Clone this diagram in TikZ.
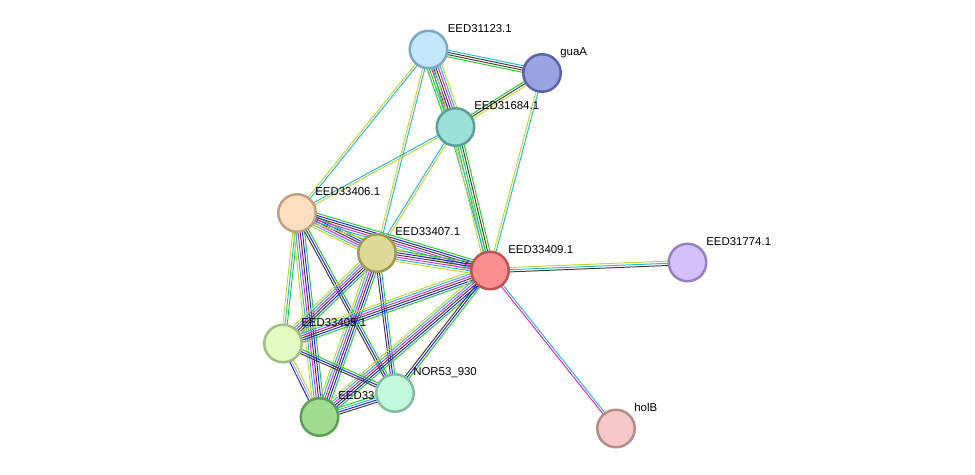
\documentclass[tikz,border=0pt]{standalone}
\usepackage{fontspec}
\setmainfont{Liberation Sans}
\usetikzlibrary{calc,backgrounds}
\definecolor{cyg}{RGB}{196,214,46}
\definecolor{ccy}{RGB}{40,182,222}
\definecolor{cmg}{RGB}{220,40,220}
\definecolor{cbk}{RGB}{60,60,60}
\definecolor{cbl}{RGB}{30,30,240}
\definecolor{cgr}{RGB}{40,200,40}
\definecolor{crd}{RGB}{240,30,30}
\definecolor{clv}{RGB}{160,160,255}
\definecolor{fA}{HTML}{C3E7FA}\definecolor{bA}{HTML}{7EA7C1}
\definecolor{fB}{HTML}{9AA3E2}\definecolor{bB}{HTML}{5B64A5}
\definecolor{fC}{HTML}{9AE0D6}\definecolor{bC}{HTML}{5C9F96}
\definecolor{fD}{HTML}{FEDFC0}\definecolor{bD}{HTML}{BFA081}
\definecolor{fE}{HTML}{DDDA96}\definecolor{bE}{HTML}{9D9A5B}
\definecolor{fF}{HTML}{FB8E8E}\definecolor{bF}{HTML}{BC5454}
\definecolor{fG}{HTML}{D4C0FB}\definecolor{bG}{HTML}{9581C2}
\definecolor{fH}{HTML}{E2FCC4}\definecolor{bH}{HTML}{A1BE84}
\definecolor{fI}{HTML}{C2F9DE}\definecolor{bI}{HTML}{83BC9E}
\definecolor{fJ}{HTML}{9FDC90}\definecolor{bJ}{HTML}{5F9E55}
\definecolor{fK}{HTML}{F6C7C7}\definecolor{bK}{HTML}{B88A8A}
\newcommand\edgesp{1.25}
\newcommand\medge[3]{%
  \def\mlist{#3}%
  \foreach \c [count=\i] in \mlist {\xdef\mn{\i}}%
  \foreach \c [count=\i] in \mlist {%
    \pgfmathsetmacro\off{(\i-(\mn+1)/2)*\edgesp}%
    \draw[\c, edgeline] ($(#1)!\off pt!90:(#2)$) -- ($(#2)!\off pt!-90:(#1)$);
  }}
\begin{document}
\begin{tikzpicture}[x=0.02cm,y=-0.02cm,
  nd/.style={circle, minimum size=0.75cm, inner sep=0pt, line width=0.05cm},
  lab/.style={anchor=base west, inner sep=0pt, font=\fontsize{6.5}{7.5}\selectfont},
  edgeline/.style={line width=0.55pt}]
\useasboundingbox (0,0) rectangle (975,474);
% nodes
\node[nd, fill=fA, draw=bA] (n31123) at (428.5,49.5) {};
\node[nd, fill=fB, draw=bB] (nguaA) at (542,73) {};
\node[nd, fill=fC, draw=bC] (n31684) at (455.5,127) {};
\node[nd, fill=fD, draw=bD] (n33406) at (297,213) {};
\node[nd, fill=fE, draw=bE] (n33407) at (377,253) {};
\node[nd, fill=fF, draw=bF] (n33409) at (490,270.5) {};
\node[nd, fill=fG, draw=bG] (n31774) at (687.5,262.5) {};
\node[nd, fill=fH, draw=bH] (n33405) at (283,343.5) {};
\node[nd, fill=fJ, draw=bJ] (n33) at (319.5,417) {};
\node[lab] (l33) at ($(n33)+(18.5,-17.5)$) {EED33};
\node[nd, fill=fI, draw=bI] (nNOR) at (395,393) {};
\node[nd, fill=fK, draw=bK] (nholB) at (616,428.5) {};
% labels
\node[lab] (l31123) at ($(n31123)+(19,-17.5)$) {EED31123.1};
\node[lab] (lguaA) at ($(nguaA)+(18,-17.5)$) {guaA};
\node[lab] (l31684) at ($(n31684)+(18.5,-17.5)$) {EED31684.1};
\node[lab] (l33406) at ($(n33406)+(18,-17.5)$) {EED33406.1};
\node[lab] (l33407) at ($(n33407)+(18,-17.5)$) {EED33407.1};
\node[lab] (l33409) at ($(n33409)+(18,-17.5)$) {EED33409.1};
\node[lab] (l31774) at ($(n31774)+(18.5,-17.5)$) {EED31774.1};
\node[lab] (l33405) at ($(n33405)+(18,-17.5)$) {EED33405.1};
\node[lab] (lNOR) at ($(nNOR)+(18,-17.5)$) {NOR53\_930};
\node[lab] (lholB) at ($(nholB)+(18,-17.5)$) {holB};
% edges
\begin{pgfonlayer}{background}
\medge{n31123}{nguaA}{cgr,cbk,cbk,ccy}
\medge{n31123}{n31684}{cgr,cgr,crd,cbl,cbk,cmg,ccy,cyg}
\medge{n31684}{nguaA}{cyg,cbk,cgr}
\medge{nguaA}{n33409}{cyg,ccy}
\medge{n31123}{n33406}{cyg,ccy}
\medge{n31123}{n33407}{cyg,ccy}
\medge{n31123}{n33409}{ccy,cyg}
\medge{n31684}{n33406}{ccy,cyg}
\medge{n31684}{n33407}{ccy,cyg}
\medge{n31684}{n33409}{cyg,ccy,cgr,cbk,cgr}
\medge{n33406}{n33407}{cyg,ccy,cmg,cbk,cbl,cgr}
\medge{n33406}{n33409}{cyg,ccy,cmg,cbk,cbl,cgr}
\medge{n33406}{n33405}{cyg,ccy,cgr}
\medge{n33406}{n33}{cyg,ccy,cmg,cbk,cbl,cgr}
\medge{n33406}{nNOR}{cbk,cbl,cgr}
\medge{n33407}{n33409}{cyg,ccy,cmg,cbk,cbl,cgr}
\medge{n33407}{n33405}{cyg,ccy,cmg,cbk,cbl,cgr}
\medge{n33407}{n33}{cyg,ccy,cmg,cbk,cbl,cgr}
\medge{n33407}{nNOR}{cbk,cbl,cgr}
\medge{n33409}{n31774}{cbk,ccy,cyg}
\medge{n33409}{nholB}{cmg,ccy}
\medge{n33409}{n33405}{cyg,ccy,cmg,cbk,cbl,cgr}
\medge{n33409}{n33}{cyg,ccy,cmg,cbk,cbl,cgr}
\medge{n33409}{nNOR}{cbk,cbl,cgr}
\medge{n33405}{n33}{cbl,clv,cyg}
\medge{n33405}{nNOR}{cbk,cbl,cgr}
\medge{n33}{nNOR}{cbk,cbl,ccy,cgr}
\end{pgfonlayer}
\end{tikzpicture}
\end{document}
